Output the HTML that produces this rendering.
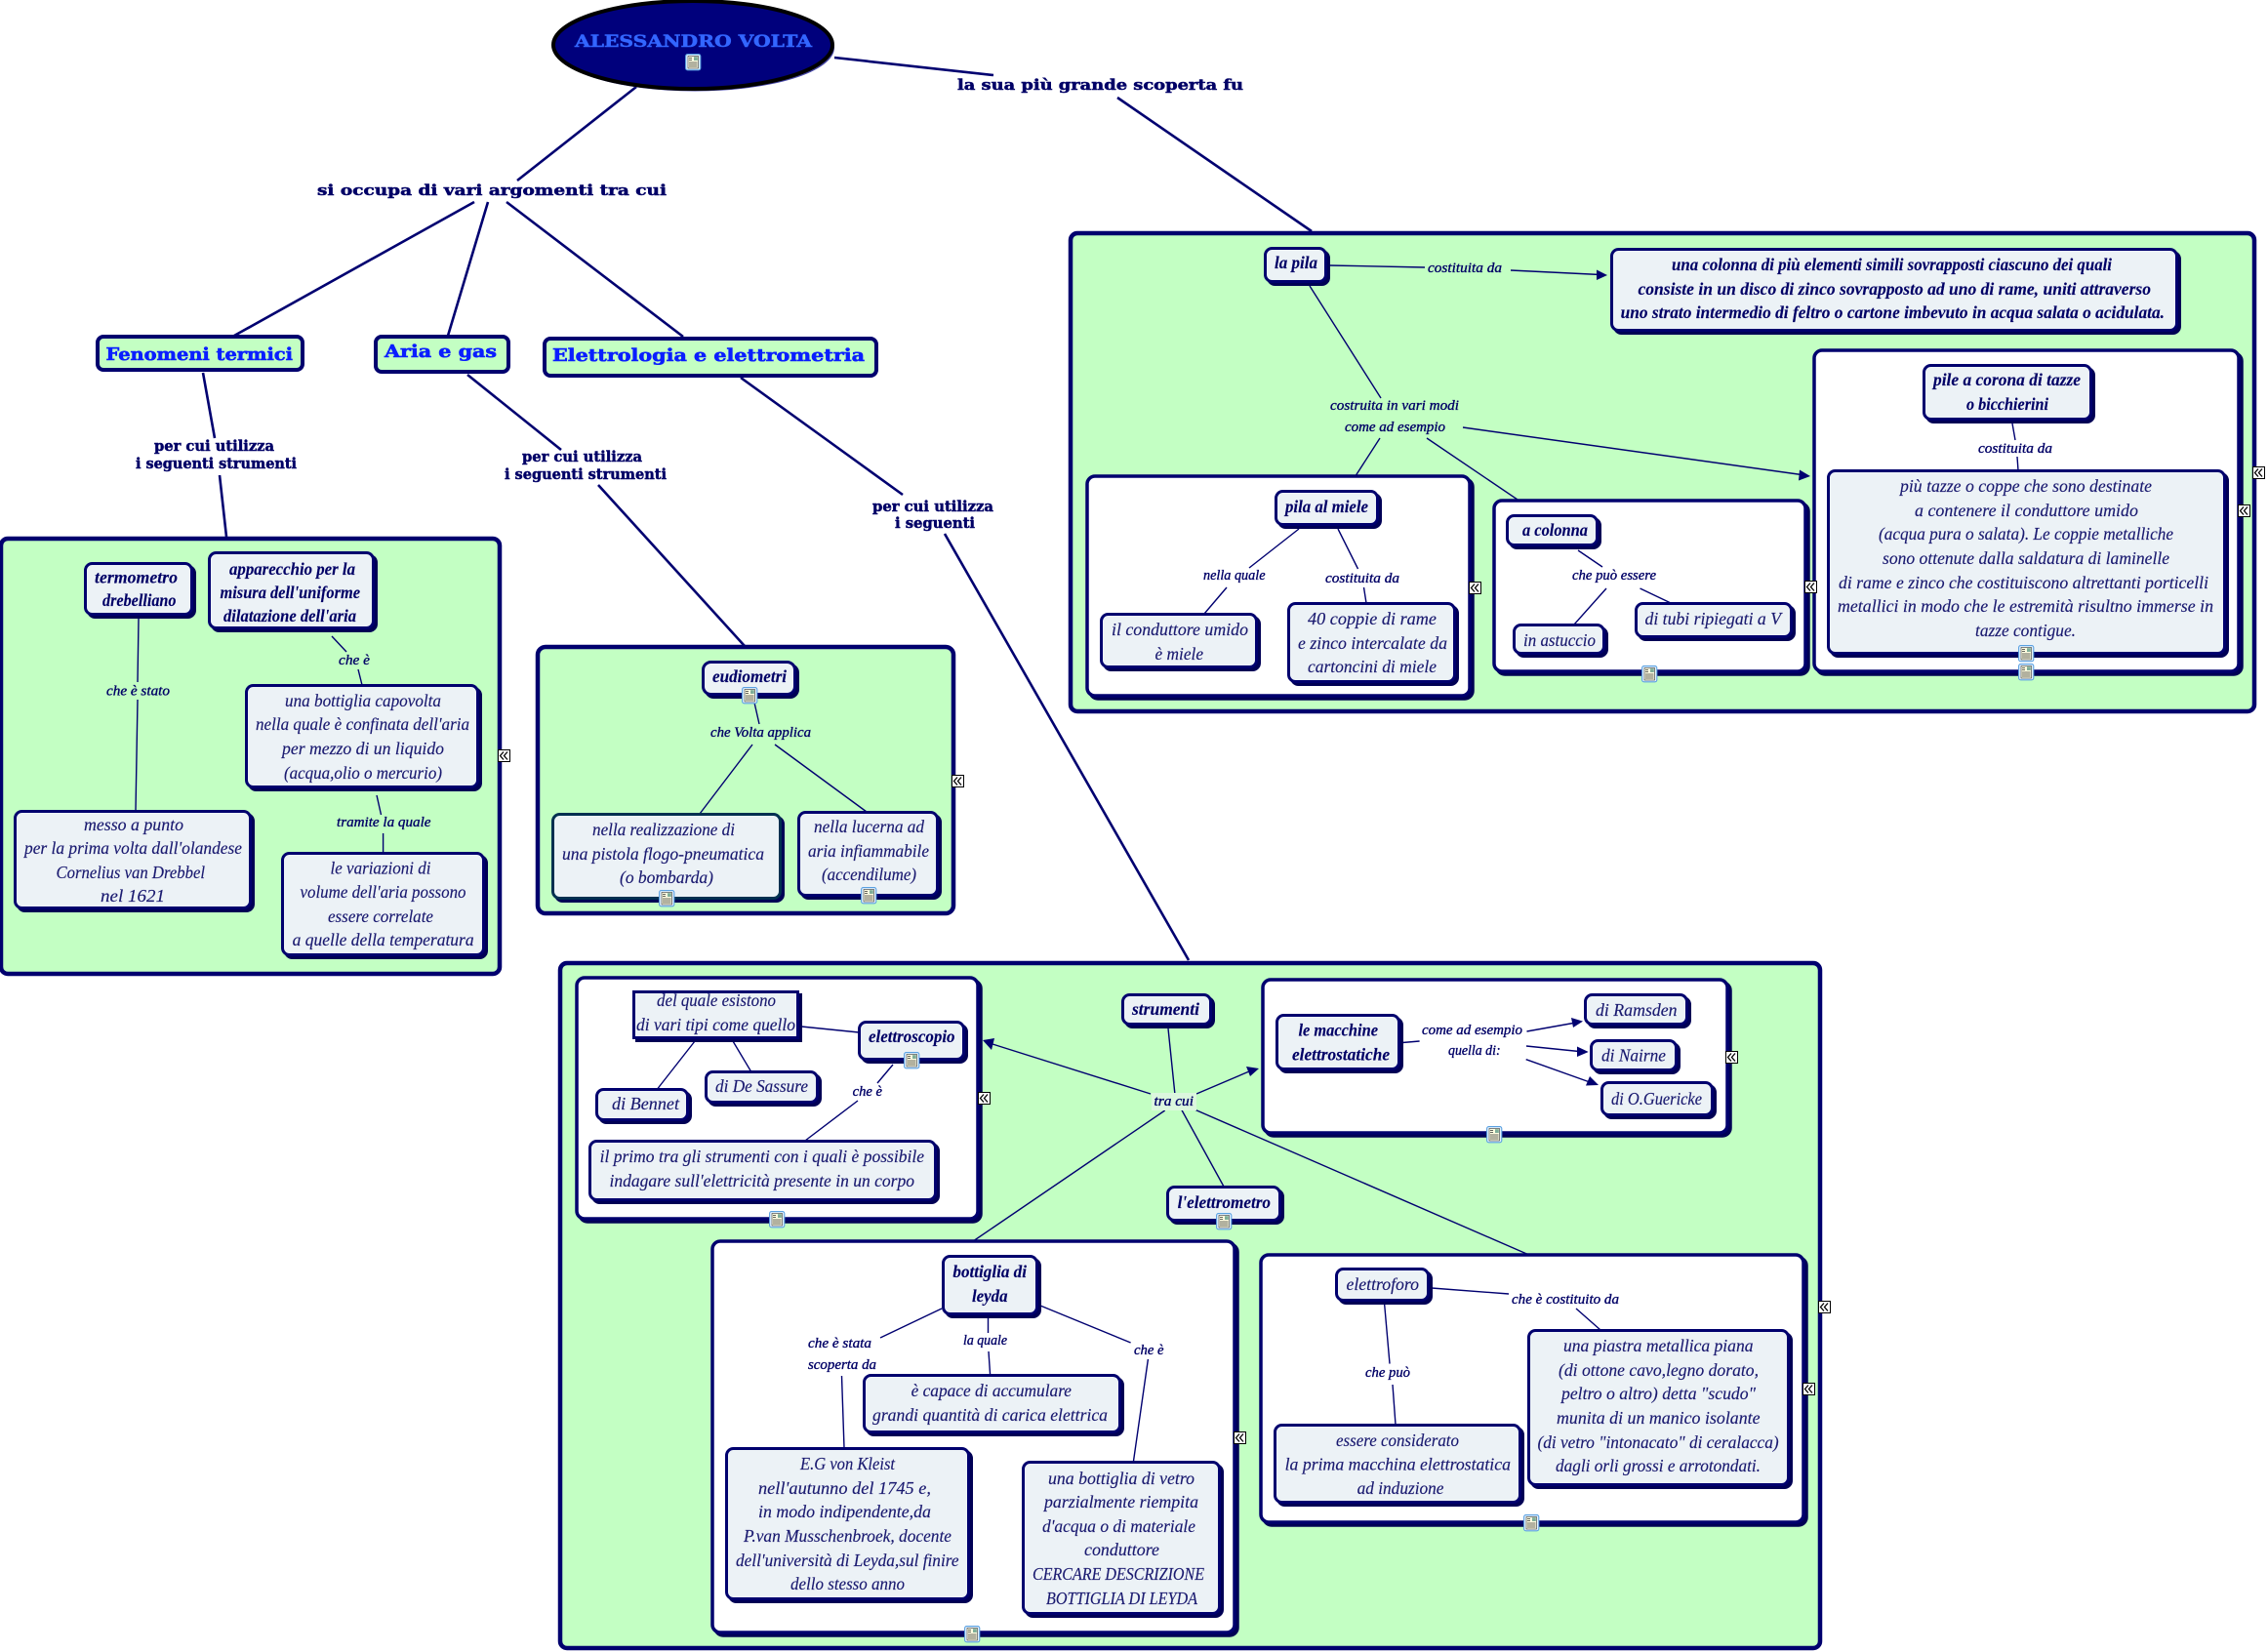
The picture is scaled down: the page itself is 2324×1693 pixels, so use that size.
<!DOCTYPE html>
<html lang="it"><head><meta charset="utf-8"><title>Alessandro Volta</title>
<style>
html,body{margin:0;padding:0;background:#fff}
svg{display:block}
.l{stroke:#000070;fill:none;stroke-width:1.4}
.t{stroke:#000070;fill:none;stroke-width:2.6}
.a{fill:#000070}
.p{fill:#c3ffc3;stroke:#00006e;stroke-width:4.5}
.w{fill:#fff;stroke:#00006e;stroke-width:3.5;filter:drop-shadow(3px 3px 0 #000055)}
.n{fill:#ecf2f6;stroke:#00006e;stroke-width:3;filter:drop-shadow(3px 3px 0 #000055)}
.h{fill:#c3ffc3;stroke:#00006e;stroke-width:4}
text{font-family:"Liberation Serif",serif;font-style:italic;font-size:18px;fill:#1a1a70;stroke:#1a1a70;stroke-width:.15}
.b{font-weight:bold;fill:#000066}
.s{font-size:15px;fill:#000066;stroke:#000066;stroke-width:.35}
.d{font-family:"DejaVu Serif",serif;font-style:normal;font-weight:bold;font-size:15px;fill:#000066;stroke:#000066;stroke-width:.5}
.e{font-family:"DejaVu Serif",serif;font-style:normal;font-weight:bold;font-size:18px;fill:#0a1eff;stroke:#0a1eff;stroke-width:.6}
</style></head><body>
<svg width="2324" height="1693" viewBox="0 0 2324 1693" xmlns="http://www.w3.org/2000/svg">
<defs>
<g id="i"><rect x=".6" y=".6" width="15.2" height="16.2" rx="2" fill="#e4f2ff" stroke="#5aa0e0" stroke-width="1.1"/><rect x="3" y="2.5" width="10.5" height="12.5" fill="#fffde0" stroke="#333" stroke-width=".6"/><rect x="9" y="3.2" width="3.8" height="3.8" fill="#7fae98"/><path d="M4 4.500h3M4 6.500h3M4 9h8.500M4 11h8.500M4 13h8.500" stroke="#333" stroke-width=".8"/></g>
<g id="x"><rect x=".5" y=".5" width="12" height="12" fill="#fff" stroke="#000" stroke-width="1"/><path d="M6 2.500L2.500 6.500L6 10.500M10 2.500L6.500 6.500L10 10.500" fill="none" stroke="#000" stroke-width="1.300"/></g>
</defs>

<!-- panels -->
<rect class="p" x="1" y="552" width="511" height="446" rx="7"/>
<rect class="p" x="551" y="663" width="426" height="273" rx="8"/>
<rect class="p" x="1097" y="239" width="1213" height="490" rx="7"/>
<rect class="p" x="574" y="987" width="1291" height="702" rx="7"/>
<rect class="w" x="1114" y="488" width="392" height="225" rx="8"/>
<rect class="w" x="1531" y="513" width="319" height="175" rx="8"/>
<rect class="w" x="1859" y="359" width="435" height="329" rx="8"/>
<rect class="w" x="591" y="1002" width="411" height="247" rx="8"/>
<rect class="w" x="1294" y="1004" width="476" height="157" rx="8"/>
<rect class="w" x="1292" y="1286" width="556" height="274" rx="8"/>
<rect class="w" x="730" y="1272" width="535" height="401" rx="8"/>

<!-- top-level connectors -->
<g class="t">
<path d="M855 59L1018 77M1145 100L1344 237M652 89L530 185M519 207L700 345M500 207L459 344M486 207L240 344"/>
<path d="M208 382L220 449M225 487L232 550M479 384L575 461M613 497L763 662M759 387L925 507M968 547L1218 984"/>
</g>

<!-- inner connectors -->
<g class="l">
<path d="M142 634L141 699M141 717L139 831M340 652L355 668M367 686L371 702M386 815L390.500 835M392.600 854V875"/>
<path d="M773 720L778 742M771 763L717 834M794 763L888 832"/>
<path d="M1362 272L1460 274M1548 277L1640 281.500M1342 293L1415 408M1414 449L1389.500 487M1462 449L1555 512M1499 438L1846 486.500"/>
<path d="M1331 542L1280 582M1257 602L1234 629M1371 542L1391.500 583M1397.500 602L1400 618"/>
<path d="M1617 564L1642 581M1646 603L1613 640M1680.500 603L1712 618M2062 434L2065 451M2067 468L2068 482"/>
<path d="M821 1052L880 1058M915 1091L899 1110M879 1128L825 1169M712 1067L673.600 1116M751 1067L769.500 1098"/>
<path d="M1197 1054L1204 1122M1179 1121L1017 1070M1193.700 1138L998.600 1271M1210.600 1137L1254 1216M1226 1121L1280 1098M1224 1137L1564.500 1285"/>
<path d="M1437 1068.500L1454.600 1067M1564.500 1057L1612 1048.500M1564 1072L1618 1077.500M1563.700 1085.700L1629 1109"/>
<path d="M1467 1320L1546 1326M1615 1341L1640 1363M1418.600 1336L1424 1397.600M1427 1419L1430 1460"/>
<path d="M965 1341L902 1371M1012.500 1351V1366M1013 1385L1014.600 1409M1066 1338L1158.600 1376M1176.400 1393L1161.400 1498M862.500 1410L865 1484"/>
</g>

<!-- arrowheads -->
<g class="a">
<path d="M1647 282L1636 276.500L1636 287Z"/>
<path d="M1855 488L1844 481.500L1843 492.500Z"/>
<path d="M1007 1066L1019 1064L1016 1076Z"/>
<path d="M1290 1095L1277 1093L1281 1103Z"/>
<path d="M1622 1046.600L1610 1043L1612 1053Z"/>
<path d="M1627.700 1078L1616 1072.500L1616 1083Z"/>
<path d="M1638 1112L1629 1103L1625 1112.500Z"/>
</g>

<!-- root ellipse -->
<ellipse cx="712" cy="49" rx="143" ry="44.500" fill="#4848a8"/>
<ellipse cx="710" cy="46" rx="143" ry="45" fill="#00007c" stroke="#000" stroke-width="4"/>
<text class="d" style="fill:#3366ff;stroke:#3366ff;font-size:17px" x="589" y="48" textLength="243" lengthAdjust="spacingAndGlyphs">ALESSANDRO VOLTA</text>

<!-- head boxes -->
<rect class="h" x="100" y="345" width="210" height="34" rx="6"/>
<rect class="h" x="385" y="345" width="136" height="36" rx="6"/>
<rect class="h" x="558" y="347" width="340" height="38" rx="6"/>

<!-- nodes -->
<rect class="n" x="87.500" y="577.500" width="109" height="52" rx="7"/>
<rect class="n" x="214.500" y="566.500" width="168" height="77" rx="7"/>
<rect class="n" x="252.500" y="702.500" width="237" height="104" rx="7"/>
<rect class="n" x="15.500" y="831.500" width="241" height="99" rx="7"/>
<rect class="n" x="289.500" y="874.500" width="206" height="104" rx="7"/>
<rect class="n" x="720.500" y="678.500" width="94" height="33" rx="8"/>
<rect class="n" x="566.500" y="834.500" width="233" height="86" rx="7" style="stroke:#003050"/>
<rect class="n" x="818.500" y="832.500" width="142" height="85" rx="7"/>
<rect class="n" x="1296.500" y="254.500" width="62" height="34" rx="7"/>
<rect class="n" x="1651.500" y="255.500" width="579" height="83" rx="7"/>
<rect class="n" x="1307.500" y="503.500" width="104" height="34" rx="7"/>
<rect class="n" x="1128.500" y="629.500" width="159" height="54" rx="7"/>
<rect class="n" x="1320.500" y="618.500" width="170" height="80" rx="7"/>
<rect class="n" x="1544.500" y="528.500" width="92" height="30" rx="7"/>
<rect class="n" x="1551.500" y="640.500" width="92" height="29" rx="7"/>
<rect class="n" x="1676.500" y="618.500" width="159" height="34" rx="7"/>
<rect class="n" x="1971.500" y="374.500" width="171" height="55" rx="7"/>
<rect class="n" x="1873.500" y="482.500" width="406" height="187" rx="7"/>
<rect class="n" x="649.500" y="1016.500" width="168" height="47"/>
<rect class="n" x="880.500" y="1047.500" width="107" height="38" rx="7"/>
<rect class="n" x="723.500" y="1098.500" width="114" height="31" rx="7"/>
<rect class="n" x="611.500" y="1116.500" width="93" height="31" rx="7"/>
<rect class="n" x="604.500" y="1169.500" width="354" height="60" rx="7"/>
<rect class="n" x="1150.500" y="1019.500" width="90" height="30" rx="7"/>
<rect class="n" x="1196.500" y="1216.500" width="115" height="34" rx="7"/>
<rect class="n" x="1308.500" y="1040.500" width="125" height="55" rx="7"/>
<rect class="n" x="1624.500" y="1019.500" width="104" height="30" rx="7"/>
<rect class="n" x="1630.500" y="1066.500" width="87" height="30" rx="7"/>
<rect class="n" x="1641.500" y="1109.500" width="113" height="33" rx="7"/>
<rect class="n" x="1369.500" y="1300.500" width="94" height="32" rx="7"/>
<rect class="n" x="1306.500" y="1460.500" width="251" height="79" rx="7"/>
<rect class="n" x="1566.500" y="1363.500" width="266" height="158" rx="7"/>
<rect class="n" x="966.500" y="1287.500" width="96" height="59" rx="7"/>
<rect class="n" x="885.500" y="1409.500" width="262" height="58" rx="7"/>
<rect class="n" x="744.500" y="1484.500" width="248" height="154" rx="7"/>
<rect class="n" x="1048.500" y="1498.500" width="201" height="155" rx="7"/>

<!-- tra cui background -->
<rect x="1180" y="1120" width="46" height="18" fill="#dcf7de"/>

<!-- linking phrases (bold) -->
<text class="d" x="981" y="92" textLength="293" lengthAdjust="spacingAndGlyphs">la sua più grande scoperta fu</text>
<text class="d" x="325" y="200" textLength="358" lengthAdjust="spacingAndGlyphs">si occupa di  vari argomenti tra cui</text>
<text class="d" x="158" y="462" textLength="123" lengthAdjust="spacingAndGlyphs">per cui utilizza</text>
<text class="d" x="139" y="480" textLength="165" lengthAdjust="spacingAndGlyphs">i seguenti strumenti</text>
<text class="d" x="535" y="473" textLength="123" lengthAdjust="spacingAndGlyphs">per cui utilizza</text>
<text class="d" x="517" y="491" textLength="166" lengthAdjust="spacingAndGlyphs">i seguenti strumenti</text>
<text class="d" x="894" y="524" textLength="124" lengthAdjust="spacingAndGlyphs">per cui utilizza</text>
<text class="d" x="917" y="541" textLength="82" lengthAdjust="spacingAndGlyphs">i seguenti</text>
<text class="e" x="108.500" y="369" textLength="191.500" lengthAdjust="spacingAndGlyphs">Fenomeni termici</text>
<text class="e" x="394" y="366" textLength="115" lengthAdjust="spacingAndGlyphs">Aria e gas</text>
<text class="e" x="566" y="370" textLength="320" lengthAdjust="spacingAndGlyphs">Elettrologia e elettrometria</text>

<!-- left panel text -->
<text class="b" x="97" y="597.500" textLength="85" lengthAdjust="spacingAndGlyphs">termometro</text>
<text class="b" x="105" y="621" textLength="75.500" lengthAdjust="spacingAndGlyphs">drebelliano</text>
<text class="b" x="235" y="589" textLength="129" lengthAdjust="spacingAndGlyphs">apparecchio per la</text>
<text class="b" x="225.500" y="613" textLength="143.500" lengthAdjust="spacingAndGlyphs">misura dell'uniforme</text>
<text class="b" x="229" y="637" textLength="136" lengthAdjust="spacingAndGlyphs">dilatazione dell'aria</text>
<text x="292" y="724" textLength="160" lengthAdjust="spacingAndGlyphs">una bottiglia capovolta</text>
<text x="262" y="748" textLength="219" lengthAdjust="spacingAndGlyphs">nella quale è confinata dell'aria</text>
<text x="289" y="773" textLength="166" lengthAdjust="spacingAndGlyphs">per mezzo di un liquido</text>
<text x="291" y="798" textLength="162" lengthAdjust="spacingAndGlyphs">(acqua,olio o mercurio)</text>
<text x="86" y="851" textLength="102" lengthAdjust="spacingAndGlyphs">messo a punto</text>
<text x="25" y="875" textLength="223" lengthAdjust="spacingAndGlyphs">per la prima volta dall'olandese</text>
<text x="57.500" y="900" textLength="152.500" lengthAdjust="spacingAndGlyphs">Cornelius van Drebbel</text>
<text x="103" y="924" textLength="66" lengthAdjust="spacingAndGlyphs">nel 1621</text>
<text x="338.500" y="895.500" textLength="103" lengthAdjust="spacingAndGlyphs">le variazioni di</text>
<text x="307.500" y="920" textLength="170" lengthAdjust="spacingAndGlyphs">volume dell'aria possono</text>
<text x="336" y="945" textLength="108" lengthAdjust="spacingAndGlyphs">essere correlate</text>
<text x="299.600" y="969" textLength="186" lengthAdjust="spacingAndGlyphs">a quelle della temperatura</text>
<text class="s" x="109" y="712.400" textLength="65" lengthAdjust="spacingAndGlyphs">che è stato</text>
<text class="s" x="347" y="681" textLength="32" lengthAdjust="spacingAndGlyphs">che è</text>
<text class="s" x="345" y="847" textLength="96.500" lengthAdjust="spacingAndGlyphs">tramite la quale</text>

<!-- eudiometri -->
<text class="b" x="730" y="699" textLength="76" lengthAdjust="spacingAndGlyphs">eudiometri</text>
<text class="s" x="728" y="755" textLength="103" lengthAdjust="spacingAndGlyphs">che Volta applica</text>
<text x="607" y="856" textLength="146" lengthAdjust="spacingAndGlyphs">nella realizzazione di</text>
<text x="576" y="881" textLength="207" lengthAdjust="spacingAndGlyphs">una pistola flogo-pneumatica</text>
<text x="635" y="905" textLength="96" lengthAdjust="spacingAndGlyphs">(o bombarda)</text>
<text x="834" y="853" textLength="113" lengthAdjust="spacingAndGlyphs">nella lucerna ad</text>
<text x="828" y="878" textLength="124" lengthAdjust="spacingAndGlyphs">aria infiammabile</text>
<text x="842" y="902" textLength="97" lengthAdjust="spacingAndGlyphs">(accendilume)</text>

<!-- la pila -->
<text class="b" x="1306" y="275" textLength="44" lengthAdjust="spacingAndGlyphs">la pila</text>
<text class="s" x="1463" y="279" textLength="76" lengthAdjust="spacingAndGlyphs">costituita da</text>
<text class="b" x="1713" y="277" textLength="451" lengthAdjust="spacingAndGlyphs">una colonna di più elementi simili sovrapposti ciascuno dei quali</text>
<text class="b" x="1678.500" y="302" textLength="525.500" lengthAdjust="spacingAndGlyphs">consiste in un disco di zinco sovrapposto ad uno di rame, uniti attraverso</text>
<text class="b" x="1660.600" y="326" textLength="557.400" lengthAdjust="spacingAndGlyphs">uno strato intermedio di feltro o cartone imbevuto in acqua salata o acidulata.</text>
<text class="s" x="1363" y="420" textLength="132" lengthAdjust="spacingAndGlyphs">costruita in vari modi</text>
<text class="s" x="1378" y="442" textLength="103" lengthAdjust="spacingAndGlyphs">come ad esempio</text>
<text class="b" x="1317" y="525" textLength="85" lengthAdjust="spacingAndGlyphs">pila al miele</text>
<text x="1139" y="651" textLength="140" lengthAdjust="spacingAndGlyphs">il conduttore umido</text>
<text x="1183.500" y="676" textLength="49.500" lengthAdjust="spacingAndGlyphs">è miele</text>
<text x="1340" y="640" textLength="132" lengthAdjust="spacingAndGlyphs">40 coppie di rame</text>
<text x="1330" y="665" textLength="153" lengthAdjust="spacingAndGlyphs">e zinco intercalate da</text>
<text x="1340" y="689" textLength="132" lengthAdjust="spacingAndGlyphs">cartoncini di miele</text>
<text class="s" x="1233" y="594" textLength="63.500" lengthAdjust="spacingAndGlyphs">nella quale</text>
<text class="s" x="1358" y="597" textLength="76" lengthAdjust="spacingAndGlyphs">costituita da</text>
<text class="b" x="1560" y="549" textLength="67" lengthAdjust="spacingAndGlyphs">a colonna</text>
<text class="s" x="1611" y="594" textLength="86" lengthAdjust="spacingAndGlyphs">che può essere</text>
<text x="1561" y="662" textLength="74" lengthAdjust="spacingAndGlyphs">in astuccio</text>
<text x="1685.500" y="640" textLength="139.500" lengthAdjust="spacingAndGlyphs">di tubi ripiegati a V</text>
<text class="b" x="1981" y="395" textLength="151" lengthAdjust="spacingAndGlyphs">pile a corona di tazze</text>
<text class="b" x="2015" y="420" textLength="84" lengthAdjust="spacingAndGlyphs">o bicchierini</text>
<text class="s" x="2027" y="464" textLength="76" lengthAdjust="spacingAndGlyphs">costituita da</text>
<text x="1947" y="504" textLength="258" lengthAdjust="spacingAndGlyphs">più tazze o coppe che sono destinate</text>
<text x="1962" y="529" textLength="229" lengthAdjust="spacingAndGlyphs">a contenere il conduttore umido</text>
<text x="1925" y="553" textLength="302" lengthAdjust="spacingAndGlyphs">(acqua pura o salata). Le coppie metalliche</text>
<text x="1929" y="578" textLength="294" lengthAdjust="spacingAndGlyphs">sono ottenute dalla saldatura di laminelle</text>
<text x="1884" y="603" textLength="379" lengthAdjust="spacingAndGlyphs">di rame e zinco che costituiscono altrettanti porticelli</text>
<text x="1883" y="627" textLength="385" lengthAdjust="spacingAndGlyphs">metallici in modo che le estremità risultno immerse in</text>
<text x="2024" y="652" textLength="103" lengthAdjust="spacingAndGlyphs">tazze contigue.</text>

<!-- elettroscopio -->
<text x="673" y="1031" textLength="122" lengthAdjust="spacingAndGlyphs">del quale esistono</text>
<text x="652" y="1056" textLength="163" lengthAdjust="spacingAndGlyphs">di vari tipi come quello</text>
<text class="b" x="890" y="1068" textLength="88.500" lengthAdjust="spacingAndGlyphs">elettroscopio</text>
<text class="s" x="873.600" y="1123" textLength="30.400" lengthAdjust="spacingAndGlyphs">che è</text>
<text x="733" y="1119" textLength="95" lengthAdjust="spacingAndGlyphs">di De Sassure</text>
<text x="627" y="1137" textLength="69" lengthAdjust="spacingAndGlyphs">di Bennet</text>
<text x="614.600" y="1191" textLength="332.400" lengthAdjust="spacingAndGlyphs">il primo tra gli strumenti con i quali è possibile</text>
<text x="624.500" y="1216" textLength="312.500" lengthAdjust="spacingAndGlyphs">indagare sull'elettricità presente in un corpo</text>
<text class="b" x="1160" y="1040" textLength="69" lengthAdjust="spacingAndGlyphs">strumenti</text>
<text class="s" x="1182.500" y="1133" textLength="40.500" lengthAdjust="spacingAndGlyphs">tra cui</text>
<text class="b" x="1206.600" y="1238" textLength="95.400" lengthAdjust="spacingAndGlyphs">l'elettrometro</text>

<!-- macchine -->
<text class="b" x="1330.500" y="1061.600" textLength="81.500" lengthAdjust="spacingAndGlyphs">le macchine</text>
<text class="b" x="1324" y="1086.500" textLength="100" lengthAdjust="spacingAndGlyphs">elettrostatiche</text>
<text class="s" x="1457" y="1060" textLength="103" lengthAdjust="spacingAndGlyphs">come ad esempio</text>
<text class="s" x="1484" y="1081" textLength="53.600" lengthAdjust="spacingAndGlyphs">quella di:</text>
<text x="1635" y="1041" textLength="83.600" lengthAdjust="spacingAndGlyphs">di Ramsden</text>
<text x="1641" y="1087.600" textLength="66" lengthAdjust="spacingAndGlyphs">di Nairne</text>
<text x="1651" y="1132" textLength="93" lengthAdjust="spacingAndGlyphs">di O.Guericke</text>

<!-- elettroforo -->
<text x="1379.500" y="1322" textLength="74.500" lengthAdjust="spacingAndGlyphs">elettroforo</text>
<text class="s" x="1549" y="1336" textLength="110" lengthAdjust="spacingAndGlyphs">che è costituito da</text>
<text class="s" x="1399" y="1411" textLength="46" lengthAdjust="spacingAndGlyphs">che può</text>
<text x="1369" y="1482" textLength="126" lengthAdjust="spacingAndGlyphs">essere considerato</text>
<text x="1316.600" y="1506.600" textLength="231.400" lengthAdjust="spacingAndGlyphs">la prima macchina elettrostatica</text>
<text x="1390.600" y="1531" textLength="88.900" lengthAdjust="spacingAndGlyphs">ad induzione</text>
<text x="1602" y="1385" textLength="194.500" lengthAdjust="spacingAndGlyphs">una piastra metallica piana</text>
<text x="1597" y="1410" textLength="205" lengthAdjust="spacingAndGlyphs">(di ottone cavo,legno dorato,</text>
<text x="1600" y="1434" textLength="199" lengthAdjust="spacingAndGlyphs">peltro o altro) detta "scudo"</text>
<text x="1595" y="1459" textLength="208.600" lengthAdjust="spacingAndGlyphs">munita di un manico isolante</text>
<text x="1575.500" y="1484" textLength="247.100" lengthAdjust="spacingAndGlyphs">(di vetro "intonacato" di ceralacca)</text>
<text x="1594" y="1508" textLength="210" lengthAdjust="spacingAndGlyphs">dagli orli grossi e arrotondati.</text>

<!-- bottiglia -->
<text class="b" x="976.400" y="1309" textLength="75.600" lengthAdjust="spacingAndGlyphs">bottiglia di</text>
<text class="b" x="996" y="1334" textLength="36.500" lengthAdjust="spacingAndGlyphs">leyda</text>
<text class="s" x="828" y="1381" textLength="65" lengthAdjust="spacingAndGlyphs">che è stata</text>
<text class="s" x="828" y="1403" textLength="70" lengthAdjust="spacingAndGlyphs">scoperta da</text>
<text class="s" x="987" y="1378" textLength="45" lengthAdjust="spacingAndGlyphs">la quale</text>
<text class="s" x="1162" y="1388" textLength="30.500" lengthAdjust="spacingAndGlyphs">che è</text>
<text x="933.600" y="1431" textLength="164.400" lengthAdjust="spacingAndGlyphs">è capace di accumulare</text>
<text x="894" y="1456" textLength="241" lengthAdjust="spacingAndGlyphs">grandi quantità di carica elettrica</text>
<text x="820" y="1506" textLength="97" lengthAdjust="spacingAndGlyphs">E.G von Kleist</text>
<text x="777" y="1531" textLength="177" lengthAdjust="spacingAndGlyphs">nell'autunno del 1745 e,</text>
<text x="777" y="1555" textLength="177" lengthAdjust="spacingAndGlyphs">in modo indipendente,da</text>
<text x="762" y="1580" textLength="213" lengthAdjust="spacingAndGlyphs">P.van Musschenbroek, docente</text>
<text x="754" y="1605" textLength="228.500" lengthAdjust="spacingAndGlyphs">dell'università di Leyda,sul finire</text>
<text x="810" y="1629" textLength="117" lengthAdjust="spacingAndGlyphs">dello stesso anno</text>
<text x="1074" y="1521" textLength="150" lengthAdjust="spacingAndGlyphs">una bottiglia di vetro</text>
<text x="1070" y="1545" textLength="158" lengthAdjust="spacingAndGlyphs">parzialmente riempita</text>
<text x="1068" y="1570" textLength="157" lengthAdjust="spacingAndGlyphs">d'acqua o di materiale</text>
<text x="1111" y="1594" textLength="77" lengthAdjust="spacingAndGlyphs">conduttore</text>
<text x="1058" y="1619" textLength="176" lengthAdjust="spacingAndGlyphs">CERCARE DESCRIZIONE</text>
<text x="1072" y="1644" textLength="155" lengthAdjust="spacingAndGlyphs">BOTTIGLIA DI LEYDA</text>

<!-- note icons -->
<use href="#i" x="702" y="55"/>
<use href="#i" x="760" y="704"/>
<use href="#i" x="675" y="912"/>
<use href="#i" x="882" y="909"/>
<use href="#i" x="1682" y="682"/>
<use href="#i" x="2068" y="661"/>
<use href="#i" x="2068" y="680"/>
<use href="#i" x="926" y="1078"/>
<use href="#i" x="788" y="1241"/>
<use href="#i" x="1246" y="1243"/>
<use href="#i" x="1523" y="1154"/>
<use href="#i" x="1561" y="1552"/>
<use href="#i" x="988" y="1666"/>

<!-- expand icons -->
<use href="#x" x="510" y="768"/>
<use href="#x" x="975" y="794"/>
<use href="#x" x="1505" y="596"/>
<use href="#x" x="1849" y="595"/>
<use href="#x" x="2308" y="478"/>
<use href="#x" x="2293" y="517"/>
<use href="#x" x="1002" y="1119"/>
<use href="#x" x="1768" y="1077"/>
<use href="#x" x="1847" y="1417"/>
<use href="#x" x="1863" y="1333"/>
<use href="#x" x="1264" y="1467"/>
</svg>
</body></html>
